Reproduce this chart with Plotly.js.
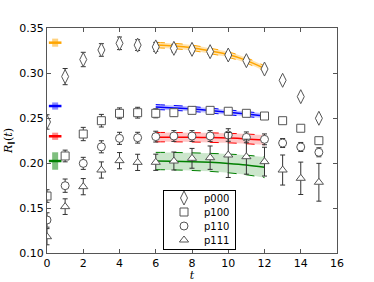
<!DOCTYPE html>
<html><head><meta charset="utf-8">
<script src="https://cdn.plot.ly/plotly-3.0.1.min.js"></script>
<style>html,body{margin:0;padding:0;background:#fff}#c{width:374px;height:282px}</style>
</head><body><div id="c"></div>
<script>
const t = [0,1,2,3,4,5,6,7,8,9,10,11,12,13,14,15];
const p000 = [0.2456,0.296,0.315,0.3256,0.333,0.331,0.329,0.3274,0.3263,0.3237,0.320,0.3137,0.3044,0.2919,0.2737,0.2497];
const p000e = [0.008,0.009,0.008,0.007,0.007,0.006,0.005,0.004,0.003,0.003,0.003,0.003,0.003,0.002,0.002,0.002];
const p100 = [0.1633,0.2078,0.2322,0.247,0.2552,0.2559,0.2552,0.2559,0.2585,0.2585,0.2575,0.2552,0.2522,0.247,0.2386,0.2248];
const p100e = [0.007,0.0065,0.0074,0.007,0.006,0.006,0.005,0.004,0.003,0.003,0.003,0.003,0.003,0.003,0.003,0.003];
const p110 = [0.1367,0.1748,0.1996,0.218,0.2274,0.2281,0.2293,0.230,0.230,0.230,0.2311,0.2285,0.2263,0.2222,0.2178,0.2119];
const p110e = [0.008,0.0074,0.0067,0.0067,0.0067,0.006,0.006,0.006,0.006,0.006,0.007,0.006,0.006,0.005,0.005,0.005];
const p111 = [0.1181,0.1515,0.1737,0.1922,0.2026,0.2007,0.2008,0.2022,0.2052,0.2059,0.2089,0.207,0.2015,0.1922,0.183,0.1786];
const p111e = [0.009,0.0087,0.009,0.009,0.009,0.009,0.009,0.01,0.011,0.013,0.025,0.0194,0.016,0.0167,0.018,0.021];

// fit bands t=6..12
const tf = [6,7,8,9,10,11,12];
const f000 = [0.331,0.3300,0.328,0.3245,0.3205,0.314,0.305];
const f000e = [0.003,0.003,0.003,0.003,0.003,0.003,0.003];
const f100 = [0.2622,0.2612,0.2600,0.2583,0.2563,0.2544,0.2522];
const f100e = [0.0027,0.0027,0.0027,0.0027,0.0027,0.0027,0.0027];
const f110 = [0.2287,0.2287,0.2285,0.2282,0.2277,0.2268,0.2255];
const f110e = [0.0052,0.0052,0.0052,0.0053,0.0053,0.0054,0.0055];
const f111 = [0.2022,0.2020,0.2015,0.2007,0.1995,0.1978,0.1952];
const f111e = [0.0096,0.0097,0.0098,0.0100,0.0104,0.0109,0.0115];

// side markers
const tside = 0.45;
const side = [0.3337,0.2633,0.2297,0.2022];
const sidee = [0.0045,0.004,0.004,0.0097];

const colors = ['#FFA500','#0000FF','#FF0000','#008000'];
const fills = ['rgba(255,165,0,0.3)','rgba(0,0,255,0.25)','rgba(255,0,0,0.22)','rgba(0,128,0,0.2)'];
const sideFills = ['rgba(255,165,0,0.5)','rgba(0,0,255,0.45)','rgba(255,0,0,0.45)','rgba(0,128,0,0.5)'];
const names = ['p000','p100','p110','p111'];
const symbols = ['diamond-tall','square','circle','triangle-up'];
const sizes = [10,8,8,8];
const data = [p000,p100,p110,p111];
const errs = [p000e,p100e,p110e,p111e];
const fits = [f000,f100,f110,f111];
const fitEs = [f000e,f100e,f110e,f111e];

const traces = [];
for (let k=0;k<4;k++){
  const lo = fits[k].map((v,i)=>v-fitEs[k][i]);
  const hi = fits[k].map((v,i)=>v+fitEs[k][i]);
  traces.push({x:tf,y:lo,mode:'lines',line:{color:colors[k],width:1,dash:'dash',shape:'spline'},showlegend:false,hoverinfo:'skip'});
  traces.push({x:tf,y:hi,mode:'lines',fill:'tonexty',fillcolor:fills[k],line:{color:colors[k],width:1,dash:'dash',shape:'spline'},showlegend:false,hoverinfo:'skip'});
  traces.push({x:tf,y:fits[k],mode:'lines',line:{color:colors[k],width:1.5,shape:'spline'},showlegend:false});
  traces.push({x:[tside],y:[side[k]],mode:'markers',marker:{symbol:'line-ew',size:9,line:{color:colors[k],width:2.5}},
    error_y:{type:'data',array:[sidee[k]],visible:true,color:sideFills[k],thickness:6,width:0},showlegend:false});
}
for (let k=0;k<4;k++){
  traces.push({x:t,y:data[k],name:names[k],mode:'markers',
    marker:{symbol:symbols[k],size:sizes[k],color:'#fff',line:{color:'#555',width:1}},
    error_y:{type:'data',array:errs[k],visible:true,color:'#333',thickness:1,width:2.5}});
}

const layout = {
  width:374,height:282,
  margin:{l:47,r:37,t:28,b:29},
  paper_bgcolor:'#fff',plot_bgcolor:'rgba(0,0,0,0)',
  font:{family:'DejaVu Sans',size:11,color:'#000'},
  xaxis:{range:[0,16],dtick:2,tick0:0,ticks:'inside',ticklen:4,tickcolor:'#555',mirror:'ticks',showline:true,linecolor:'#555',linewidth:1,showgrid:false,zeroline:false,
    title:{text:'<i>t</i>',font:{size:11,family:'DejaVu Serif'},standoff:2}},
  yaxis:{range:[0.10,0.35],dtick:0.05,tick0:0.10,tickformat:'.2f',ticks:'inside',ticklen:4,tickcolor:'#555',mirror:'ticks',showline:true,linecolor:'#555',linewidth:1,showgrid:false,zeroline:false,
    title:{text:'<i>R</i><sub>∥</sub>(<i>t</i>)',font:{size:11,family:'DejaVu Serif'},standoff:4}},
  legend:{x:0.4,y:0.018,xanchor:'left',yanchor:'bottom',bgcolor:'#fff',bordercolor:'#000',borderwidth:1,traceorder:'normal',
    font:{size:10,family:'DejaVu Sans'},tracegroupgap:0,itemwidth:30},
  showlegend:true
};
Plotly.newPlot('c',traces,layout,{staticPlot:true,displayModeBar:false}).then(function(gd){
  // compact the legend rows to match the reference spacing
  const leg = gd.querySelector('g.legend');
  if(!leg) return;
  const items = leg.querySelectorAll('g.traces');
  const step = 14, top = 8;
  items.forEach(function(it,i){
    const tr = it.getAttribute('transform')||'';
    const m = tr.match(/translate\(([-\d.]+)[ ,]*([-\d.]+)?\)/);
    const x = m ? m[1] : 1;
    it.setAttribute('transform','translate('+x+','+(top+i*step)+')');
  });
  const h = top + (items.length-1)*step + 9;
  const bg = leg.querySelector('rect.bg');
  if(bg){ bg.setAttribute('height',h); }
  const clip = document.querySelector('clipPath[id^="legend"] rect');
  if(clip){ clip.setAttribute('height',h); }
  // anchor bottom of legend at same place as reference
  const ltr = leg.getAttribute('transform');
  const lm = ltr.match(/translate\(([-\d.]+)[ ,]*([-\d.]+)\)/);
  if(lm){ leg.setAttribute('transform','translate('+lm[1]+','+(249-h)+')'); }
});
</script></body></html>
